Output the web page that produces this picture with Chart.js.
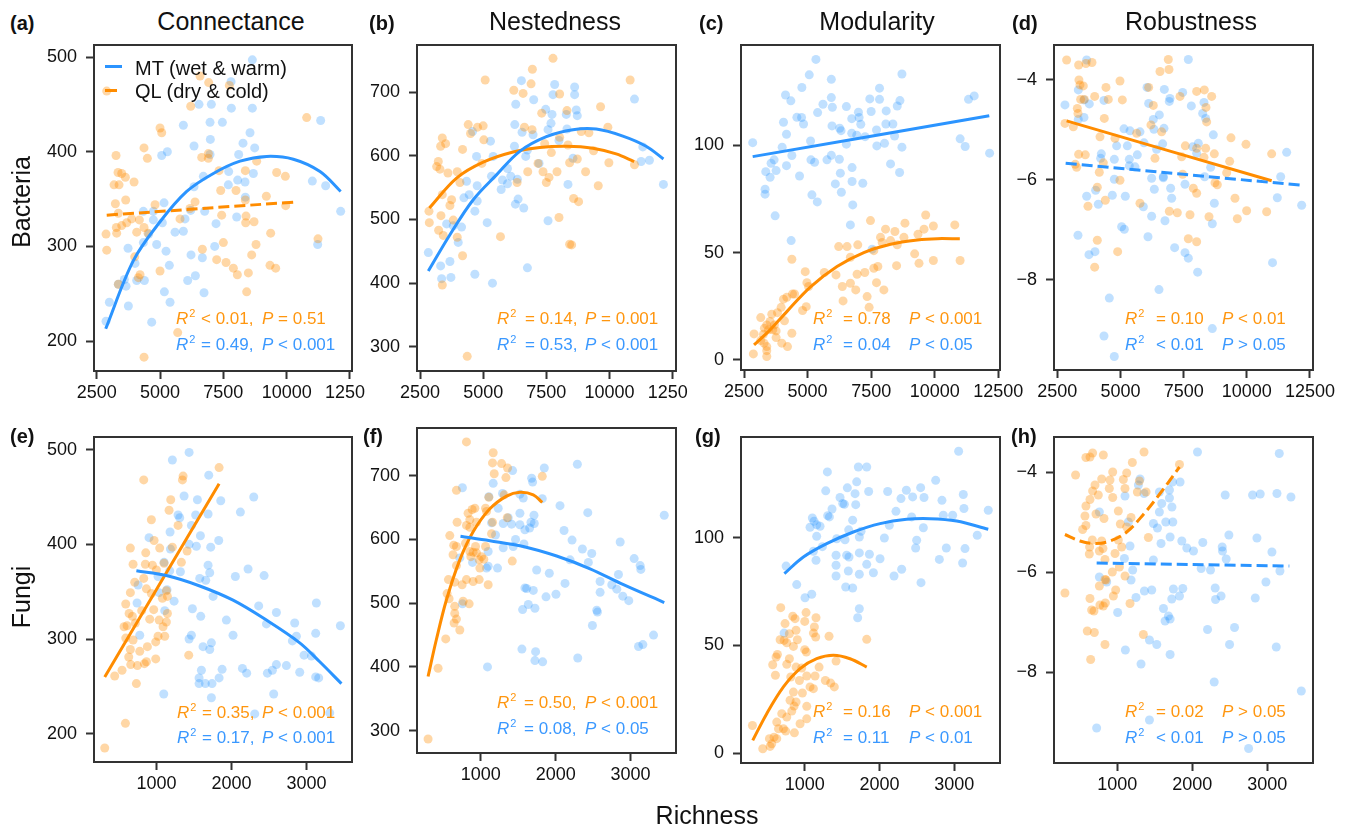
<!DOCTYPE html>
<html>
<head>
<meta charset="utf-8">
<script src="https://cdn.jsdelivr.net/npm/chart.js@4.4.0/dist/chart.umd.min.js"></script>
<style>
  body { margin: 0; background: #fff; }
  #fig { position: relative; width: 1351px; height: 828px; overflow: hidden; font-family: "Liberation Sans", Arial, sans-serif; color: #111; }
  #fig canvas { position: absolute; }
  .t { position: absolute; white-space: nowrap; line-height: 1; transform: translateY(-50%); z-index: 5; }
  .c { transform: translate(-50%, -50%); }
  .title { font-size: 25px; }
  .lab { font-size: 20px; font-weight: bold; }
  .axl { font-size: 25px; }
  .rot { transform: translate(-50%, -50%) rotate(-90deg); }
  .ann { font-size: 17px; }
  .ann sup { font-size: 11px; position: relative; top: -7px; vertical-align: baseline; margin-left: 1px; }
  .or { color: #ff960f; }
  .bl { color: #3a98ff; }
  .leg { font-size: 20px; }
  .swatch { position: absolute; width: 17px; height: 0; border-top: 3px solid; z-index: 5; }
</style>
</head>
<body>
<div id="fig">
  <div class="t c title" style="left:231px;top:21px">Connectance</div>
  <div class="t c title" style="left:555px;top:21px">Nestedness</div>
  <div class="t c title" style="left:877px;top:21px">Modularity</div>
  <div class="t c title" style="left:1191px;top:21px">Robustness</div>

  <div class="t lab" style="left:10px;top:23px">(a)</div>
  <div class="t lab" style="left:369px;top:23px">(b)</div>
  <div class="t lab" style="left:699px;top:23px">(c)</div>
  <div class="t lab" style="left:1012px;top:23px">(d)</div>
  <div class="t lab" style="left:10px;top:436px">(e)</div>
  <div class="t lab" style="left:363px;top:436px">(f)</div>
  <div class="t lab" style="left:695px;top:436px">(g)</div>
  <div class="t lab" style="left:1011px;top:436px">(h)</div>

  <div class="t axl rot" style="left:21px;top:202px">Bacteria</div>
  <div class="t axl rot" style="left:21px;top:597px">Fungi</div>
  <div class="t axl c" style="left:707px;top:815px">Richness</div>

  <div class="swatch" style="left:105px;top:65px;border-color:#2b94ff"></div>
  <div class="t leg" style="left:135px;top:68px">MT (wet &amp; warm)</div>
  <div class="swatch" style="left:105px;top:89px;border-color:#ff8c00;width:12px"></div>
  <div class="t leg" style="left:135px;top:91px">QL (dry &amp; cold)</div>

  <!-- (a) -->
  <span class="t ann or" style="left:176px;top:318px"><i>R</i><sup>2</sup></span>
  <span class="t ann or" style="left:201px;top:318px">&lt; 0.01,</span>
  <span class="t ann or" style="left:262px;top:318px"><i>P</i> = 0.51</span>
  <span class="t ann bl" style="left:176px;top:344px"><i>R</i><sup>2</sup></span>
  <span class="t ann bl" style="left:201px;top:344px">= 0.49,</span>
  <span class="t ann bl" style="left:262px;top:344px"><i>P</i> &lt; 0.001</span>
  <!-- (b) -->
  <span class="t ann or" style="left:497px;top:318px"><i>R</i><sup>2</sup></span>
  <span class="t ann or" style="left:525px;top:318px">= 0.14,</span>
  <span class="t ann or" style="left:585px;top:318px"><i>P</i> = 0.001</span>
  <span class="t ann bl" style="left:497px;top:344px"><i>R</i><sup>2</sup></span>
  <span class="t ann bl" style="left:525px;top:344px">= 0.53,</span>
  <span class="t ann bl" style="left:585px;top:344px"><i>P</i> &lt; 0.001</span>
  <!-- (c) -->
  <span class="t ann or" style="left:813px;top:318px"><i>R</i><sup>2</sup></span>
  <span class="t ann or" style="left:843px;top:318px">= 0.78</span>
  <span class="t ann or" style="left:909px;top:318px"><i>P</i> &lt; 0.001</span>
  <span class="t ann bl" style="left:813px;top:344px"><i>R</i><sup>2</sup></span>
  <span class="t ann bl" style="left:843px;top:344px">= 0.04</span>
  <span class="t ann bl" style="left:909px;top:344px"><i>P</i> &lt; 0.05</span>
  <!-- (d) -->
  <span class="t ann or" style="left:1125px;top:318px"><i>R</i><sup>2</sup></span>
  <span class="t ann or" style="left:1156px;top:318px">= 0.10</span>
  <span class="t ann or" style="left:1222px;top:318px"><i>P</i> &lt; 0.01</span>
  <span class="t ann bl" style="left:1125px;top:344px"><i>R</i><sup>2</sup></span>
  <span class="t ann bl" style="left:1156px;top:344px">&lt; 0.01</span>
  <span class="t ann bl" style="left:1222px;top:344px"><i>P</i> &gt; 0.05</span>
  <!-- (e) -->
  <span class="t ann or" style="left:177px;top:712px"><i>R</i><sup>2</sup></span>
  <span class="t ann or" style="left:202px;top:712px">= 0.35,</span>
  <span class="t ann or" style="left:262px;top:712px"><i>P</i> &lt; 0.001</span>
  <span class="t ann bl" style="left:177px;top:737px"><i>R</i><sup>2</sup></span>
  <span class="t ann bl" style="left:202px;top:737px">= 0.17,</span>
  <span class="t ann bl" style="left:262px;top:737px"><i>P</i> &lt; 0.001</span>
  <!-- (f) -->
  <span class="t ann or" style="left:497px;top:702px"><i>R</i><sup>2</sup></span>
  <span class="t ann or" style="left:524px;top:702px">= 0.50,</span>
  <span class="t ann or" style="left:585px;top:702px"><i>P</i> &lt; 0.001</span>
  <span class="t ann bl" style="left:497px;top:728px"><i>R</i><sup>2</sup></span>
  <span class="t ann bl" style="left:524px;top:728px">= 0.08,</span>
  <span class="t ann bl" style="left:585px;top:728px"><i>P</i> &lt; 0.05</span>
  <!-- (g) -->
  <span class="t ann or" style="left:813px;top:711px"><i>R</i><sup>2</sup></span>
  <span class="t ann or" style="left:843px;top:711px">= 0.16</span>
  <span class="t ann or" style="left:909px;top:711px"><i>P</i> &lt; 0.001</span>
  <span class="t ann bl" style="left:813px;top:737px"><i>R</i><sup>2</sup></span>
  <span class="t ann bl" style="left:843px;top:737px">= 0.11</span>
  <span class="t ann bl" style="left:909px;top:737px"><i>P</i> &lt; 0.01</span>
  <!-- (h) -->
  <span class="t ann or" style="left:1125px;top:711px"><i>R</i><sup>2</sup></span>
  <span class="t ann or" style="left:1156px;top:711px">= 0.02</span>
  <span class="t ann or" style="left:1222px;top:711px"><i>P</i> &gt; 0.05</span>
  <span class="t ann bl" style="left:1125px;top:737px"><i>R</i><sup>2</sup></span>
  <span class="t ann bl" style="left:1156px;top:737px">&lt; 0.01</span>
  <span class="t ann bl" style="left:1222px;top:737px"><i>P</i> &gt; 0.05</span>
</div>

<script>
// tick labels
const richTicksBac = [2500, 5000, 7500, 10000, 12500];
const richTicksFun = [1000, 2000, 3000];
const connTicks = [200, 300, 400, 500];
const nestTicks = [300, 400, 500, 600, 700];
const modTicks = [0, 50, 100];
const robTicks = [-8, -6, -4];

// Bacteria: [richness, value]
const bacConnMT = [[2868,221],[7803,474],[8645,497],[8645,446],[6539,450],[7026,450],[7816,446],[6974,431],[7461,431],[5921,428],
  [8553,420],[11342,433],[6987,413],[8276,409],[8737,404],[6342,406],[5289,400],[5066,396],[8105,397],[6974,397],
  [6342,363],[6711,374],[7711,379],[7697,365],[8066,370],[8355,368],[8684,377],[11013,369],[11539,364],[12132,337],
  [11224,302],[8368,352],[8026,331],[7211,324],[6763,337],[6211,338],[5987,329],[5921,316],[5592,315],[5158,346],
  [4737,337],[4737,328],[5092,325],[4342,337],[4342,304],[4553,313],[5237,295],[4868,302],[3737,298],[7158,300],
  [6224,291],[6671,288],[6092,264],[6395,269],[6737,251],[5368,280],[5171,252],[5395,241],[4013,282],[4079,264],
  [4382,264],[3355,260],[3592,265],[3750,237],[3000,241],[4671,220],[3658,258]];
const bacConnQL = [[2895,464],[6579,480],[6921,473],[7737,470],[6211,448],[10789,436],[5000,425],[5066,420],[4368,404],[4500,393],
  [3263,396],[6908,398],[6908,393],[6645,394],[8816,390],[3342,378],[3487,377],[3632,373],[3974,368],[3184,365],
  [3382,365],[9605,378],[9947,374],[7329,380],[7395,359],[8000,359],[8368,380],[9197,353],[3645,349],[3237,345],
  [4803,344],[6382,347],[9961,343],[8368,349],[3355,335],[6184,340],[7434,333],[8395,332],[5789,329],[3882,329],
  [3684,325],[3487,322],[3276,320],[4184,328],[4368,320],[8382,325],[8711,326],[4079,315],[2868,313],[3289,314],
  [4526,314],[9368,314],[7500,304],[11237,308],[8790,302],[2895,296],[6671,297],[4000,289],[7237,286],[7605,283],
  [7895,277],[8053,270],[8618,291],[9342,280],[9566,277],[4211,270],[5000,274],[8487,272],[8421,252],[5697,209],
  [4368,183],[3355,260],[4145,267]];
const bacConnMTFit = [[2855,213],[3947,285],[5000,326],[6053,358],[7105,377],[8158,390],[9210,395],[10263,392],[11316,379],[12132,358]];
const bacConnQLFit = [[2895,333],[10395,347]];

const bacNestMT = [[2829,448],[3316,427],[3355,407],[3724,409],[3684,434],[4013,464],[4145,488],[4237,534],[4342,560],[4671,513],
  [4763,529],[4763,553],[4737,599],[5368,400],[4671,414],[5158,495],[5329,568],[5395,599],[5289,623],
  [4579,638],[5763,562],[5961,580],[5711,547],[5961,556],[6092,568],[6276,524],[6382,532],[6355,563],[6237,615],
  [6250,649],[6289,681],[6513,718],[6605,518],[6539,637],[6999,688],[6974,633],[6750,609],[6684,599],[6750,424],
  [7211,588],[7566,498],[7474,673],[7724,665],[7684,651],[7566,641],[7829,712],[7763,696],[8000,624],[8289,665],
  [8316,642],[8355,555],[8618,708],[8618,696],[8684,672],[8724,663],[8553,596],[10987,689],[11250,591],[11579,593],
  [11316,614],[12132,555],[3816,490],[3553,493],[4447,539]];
const bacNestQL = [[7763,753],[6947,736],[5079,719],[10816,719],[6895,713],[6211,703],[6579,698],[8026,697],[9645,677],[7316,667],
  [8316,671],[4408,649],[5000,647],[4776,645],[4500,635],[6632,645],[6934,641],[8882,638],[9184,636],[9934,645],
  [3382,628],[3513,619],[3316,615],[5026,625],[4184,610],[8026,629],[8355,617],[7697,605],[9368,608],[7434,619],
  [3224,591],[3158,583],[3289,579],[3605,573],[3974,575],[4947,588],[7171,588],[7368,575],[7921,575],[8421,589],
  [8724,595],[9053,575],[9974,589],[10987,586],[6342,558],[6763,575],[7500,558],[7605,566],[9553,553],[4079,558],
  [3382,539],[3750,531],[3684,522],[2855,513],[2868,495],[3329,506],[3237,483],[3421,475],[3816,499],[3974,472],
  [4184,443],[5684,473],[8000,503],[8421,461],[8500,460],[8579,533],[8776,528],[3382,397],[4368,285]];
const bacNestMTFit = [[2829,419],[3684,476],[4605,531],[5526,570],[6447,607],[7500,630],[8553,641],[9474,642],[10526,631],[11447,615],[12132,595]];
const bacNestQLFit = [[2868,518],[3947,565],[5000,590],[6184,606],[7237,613],[8289,615],[9342,612],[10263,603],[10974,591]];

const bacModMT = [[2842,101.2],[5329,140],[5066,132.8],[5934,130.7],[4776,126.9],[8711,133.2],[4132,123.4],[4342,120.7],[5605,119.1],[5934,122.2],
  [5974,117.7],[6526,118],[7447,121.6],[7829,126.6],[7829,121.4],[8632,120.8],[8526,118.3],[8092,116],[7500,115.7],[11329,121.4],
  [11553,123],[5395,115.2],[4579,113],[4763,112.9],[4842,109.9],[4053,110.7],[5961,109],[6263,107.9],[6316,106.8],[6737,112.4],
  [7000,115.4],[7026,112.9],[7092,109.8],[6737,105.6],[6934,104.7],[7263,104],[7711,107.1],[8079,109.9],[8355,109.9],[8421,104.3],
  [4171,105.1],[5118,102],[6526,100.5],[7724,99.7],[8026,100.9],[8711,99.1],[11000,103],[11197,99.4],[12158,96.3],[4000,99.1],
  [4382,95.2],[5934,95.3],[5763,93.2],[6250,93.5],[5132,93.2],[5276,92.1],[3566,91.6],[3684,93.2],[3763,88.2],[4171,90.5],
  [3526,85.1],[3355,87.7],[4684,85.7],[6289,87],[6750,89.6],[8263,91.3],[8618,87.3],[6092,82],[6750,83.1],[7171,82.3],
  [6329,78.1],[3329,79.5],[3329,77.2],[5171,76.9],[5382,73.6],[6776,72.2],[3724,67.1],[6684,62.9],[4355,55.6],[7539,51.6]];
const bacModQL = [[9645,67.5],[7474,64.9],[8829,63.7],[10789,62.9],[9947,62.4],[9579,60.9],[8066,60.9],[9342,58.5],[8434,59.8],[7868,57.1],
  [8789,57.1],[8263,55.6],[7934,54.7],[8526,53.6],[6224,52.8],[6553,52.8],[6974,53.6],[7605,50.9],[9211,49.4],[6684,47.8],
  [4382,46.9],[9947,46.3],[10999,46.3],[9382,45],[8500,43.9],[7605,42.7],[7763,43.5],[4908,41.1],[5658,40.7],[6118,39.6],
  [6947,39.9],[7250,40.7],[4974,36],[5039,34.2],[6684,35.7],[6368,34.2],[7711,36],[6895,32.6],[8000,32.6],[7342,29.5],
  [4408,30.7],[4487,30.7],[4184,29.2],[4053,28.3],[6395,27.5],[7421,24.5],[4947,24.8],[4803,23],[3961,24.5],[3816,22],
  [3592,21.3],[3158,19.7],[3526,17.9],[3697,16.3],[4092,18.2],[3395,16.3],[3303,14.8],[3461,14],[3632,14],[3763,13.5],
  [4382,12.4],[2895,12.1],[3263,11.9],[3158,9],[3289,7.8],[3395,6.2],[3395,4.3],[2868,2.8],[3395,1.6],[3987,7.8],
  [4211,6.2],[3763,10.4]];
const bacModMTFit = [[2842,94.7],[12145,113.7]];
const bacModQLFit = [[2895,7],[3526,14],[4184,22.5],[5105,33.9],[6158,43.5],[7211,50],[8263,53.9],[9316,55.9],[10105,56.5],[10987,56.4]];

const bacRobMT = [[7685,-3.59],[3661,-3.6],[3331,-4.2],[6050,-4.15],[6735,-4.19],[7461,-4.25],[2803,-4.5],[3555,-4.4],[3766,-4.48],[4347,-4.41],
  [6115,-4.47],[6959,-4.37],[6932,-4.43],[7804,-4.52],[8305,-4.45],[8252,-4.67],[8371,-4.77],[3555,-4.75],[3331,-4.79],[6537,-4.7],
  [6299,-4.79],[6325,-4.99],[6721,-4.97],[5139,-4.98],[5377,-5.02],[5772,-5.04],[8674,-5.1],[5930,-5.26],[4848,-5.32],[5271,-5.32],
  [6669,-5.28],[8081,-5.27],[7857,-5.34],[6431,-5.39],[4241,-5.48],[4215,-5.57],[5666,-5.5],[5350,-5.59],[4756,-5.59],[8015,-5.47],
  [11577,-5.45],[5350,-5.72],[5574,-5.74],[8568,-5.75],[6233,-5.97],[6695,-5.94],[6695,-5.96],[8331,-5.94],[7553,-6.09],[4756,-5.99],
  [11340,-5.94],[6339,-6.19],[6985,-6.17],[4017,-6.21],[3661,-6.33],[5191,-6.33],[7025,-6.37],[4677,-6.31],[11207,-6.36],[4122,-6.49],
  [5904,-6.54],[8714,-6.47],[12171,-6.51],[6233,-6.73],[6761,-6.82],[8634,-6.88],[5046,-6.94],[5152,-6.99],[6088,-7.14],[3318,-7.11],
  [7143,-7.36],[7553,-7.46],[7685,-7.57],[3991,-7.44],[3753,-7.5],[8054,-7.85],[11018,-7.66],[6524,-8.2],[4558,-8.37],[4347,-9.13],
  [8634,-8.98],[4756,-9.54]];
const bacRobQL = [[2869,-3.6],[3344,-3.7],[3634,-3.67],[3872,-3.65],[6893,-3.59],[6563,-3.83],[6919,-3.79],[3357,-4.0],[3397,-4.1],[3529,-4.12],
  [4980,-4.02],[4426,-4.15],[6115,-4.15],[8015,-4.23],[8318,-4.2],[7355,-4.33],[8608,-4.33],[3978,-4.33],[3423,-4.39],[3568,-4.39],
  [4518,-4.39],[5073,-4.4],[6299,-4.51],[8384,-4.55],[3292,-4.57],[3318,-4.67],[4360,-4.77],[8411,-4.84],[2803,-4.87],[3133,-4.94],
  [6206,-4.9],[6629,-5.04],[5640,-5.07],[4189,-5.14],[4782,-5.17],[9373,-5.16],[9967,-5.29],[7566,-5.32],[8015,-5.37],[8371,-5.37],
  [8714,-5.48],[10983,-5.48],[3344,-5.49],[3608,-5.5],[6365,-5.57],[7421,-5.54],[8305,-5.55],[9321,-5.63],[4321,-5.66],[3265,-5.75],
  [3212,-5.69],[9202,-5.86],[4162,-5.85],[7461,-5.89],[4980,-6.01],[8740,-6.06],[8832,-6.1],[4083,-6.15],[7883,-6.17],[8015,-6.27],
  [4400,-6.41],[3714,-6.53],[5772,-6.47],[9532,-6.37],[6933,-6.63],[7249,-6.66],[7751,-6.7],[8503,-6.74],[9624,-6.78],[9993,-6.62],
  [10785,-6.64],[4083,-7.21],[7685,-7.18],[8015,-7.24],[4888,-7.44],[3978,-7.75]];
const bacRobMTFit = [[2830,-5.67],[12171,-6.11]];
const bacRobQLFit = [[2869,-4.82],[10983,-6.02]];

// Fungi: [richness, value]
const funConnMT = [[1436,497],[1213,489],[1369,451],[1547,447],[1698,473],[1858,446],[2298,450],[2120,434],[1289,431],[1311,428],
  [1689,432],[1524,431],[1182,413],[1467,420],[1587,409],[902,407],[1436,400],[1533,398],[1724,397],[1831,404],
  [1187,395],[1689,378],[1711,370],[1658,362],[1578,364],[1102,381],[1320,371],[1178,372],[1022,366],[756,357],
  [1036,349],[1142,352],[1756,345],[2053,366],[2222,374],[2436,367],[2364,335],[1236,340],[742,338],[1111,330],
  [1480,332],[1591,324],[2600,328],[3133,338],[2467,316],[2844,317],[1933,320],[3453,314],[3124,306],[2867,303],
  [778,304],[2022,304],[1467,304],[1436,300],[1622,292],[1733,296],[1711,289],[2813,298],[2969,283],[3067,282],
  [2733,272],[2600,273],[2547,267],[2480,264],[2911,265],[2147,269],[2204,264],[1876,268],[1600,267],[1569,259],
  [1569,253],[1653,253],[1742,253],[1836,259],[3124,260],[3164,259],[1733,238],[2564,242],[1098,242],[2311,221],[3311,222]];
const funConnQL = [[1836,481],[1356,472],[1347,468],[831,468],[1191,447],[1169,436],[1289,420],[933,426],[969,404],[1044,396],
  [653,396],[858,391],[1213,397],[1409,393],[1333,381],[689,379],[853,379],[947,378],[1102,380],[1000,373],
  [831,364],[711,360],[867,353],[653,349],[933,348],[1133,351],[1147,345],[1080,343],[591,337],[804,330],
  [964,331],[636,327],[680,324],[1147,327],[911,321],[1036,320],[569,313],[609,314],[720,317],[1133,318],
  [1089,313],[689,299],[591,301],[1022,303],[1111,303],[991,297],[653,289],[778,287],[880,292],[631,281],
  [747,272],[867,276],[840,274],[991,279],[658,273],[1431,283],[542,267],[444,261],[733,253],[587,211],[311,185]];
const funConnMTFit = [[733,372],[1133,367],[1578,356],[2022,341],[2467,320],[2911,296],[3178,276],[3467,253]];
const funConnQLFit = [[311,260],[1836,464]];

const funNestMT = [[2290,718],[1424,708],[1848,712],[1679,696],[1692,690],[754,681],[1165,688],[1290,672],[1821,664],[1567,665],
  [1522,671],[1107,667],[1232,649],[2058,653],[2429,642],[1522,641],[1710,638],[1366,634],[1299,625],[1411,624],
  [1522,623],[1670,627],[1714,625],[1589,615],[1652,618],[1196,607],[1143,626],[2112,614],[1464,600],[1576,593],
  [1433,589],[1299,587],[2219,599],[2357,585],[2482,578],[2862,596],[2437,564],[2192,568],[1098,581],[719,571],
  [889,564],[1098,558],[1223,555],[1076,555],[1746,552],[1915,547],[2594,534],[2839,545],[2125,531],[3049,570],
  [3129,559],[3138,553],[2750,529],[2817,522],[1589,524],[1612,523],[1701,520],[2594,517],[2004,514],[1871,510],
  [2897,511],[2977,504],[754,499],[1634,498],[1558,490],[1723,492],[2549,489],[2558,486],[2491,465],[3451,638],
  [3308,450],[3165,435],[3107,432],[1549,428],[1732,424],[1723,410],[1826,408],[2295,414],[1089,400]];
const funNestQL = [[808,753],[1165,736],[1156,720],[1277,719],[1357,712],[1179,703],[1335,697],[1821,699],[674,677],[1107,666],
  [1312,670],[1353,634],[830,641],[884,647],[920,649],[1063,649],[1076,644],[853,631],[683,627],[808,622],
  [853,619],[942,627],[1156,627],[1143,609],[585,606],[638,591],[674,589],[795,594],[929,589],[1063,589],
  [853,581],[897,580],[942,579],[629,576],[1009,573],[978,568],[866,573],[1040,569],[987,555],[674,559],
  [1420,566],[567,537],[651,533],[750,529],[808,537],[897,534],[978,537],[1098,529],[549,515],[576,507],
  [763,503],[844,499],[651,495],[651,484],[674,475],[643,469],[719,458],[531,444],[429,398],[295,287]];
const funNestMTFit = [[728,605],[1121,598],[1567,589],[2013,574],[2460,554],[2906,529],[3451,501]];
const funNestQLFit = [[295,385],[406,443],[540,505],[719,568],[897,612],[1121,648],[1344,668],[1522,674],[1701,670],[1821,658]];

const funModMT = [[3058,140.1],[1303,130.5],[1717,132.8],[1829,132.8],[2751,126.6],[1695,125.9],[1281,121.7],[1570,123.1],[1855,121.4],[2109,121.4],
  [2359,122],[2550,123.2],[1472,118.6],[1673,120.4],[1682,115.3],[1508,115.8],[1530,115.5],[2287,118.1],[2443,118.9],[2595,118.6],
  [2835,117.3],[3120,120],[3129,113.5],[1365,113.3],[1307,110.2],[1330,109.6],[1102,109.1],[1125,107.6],[1071,104.8],[1160,106],
  [1205,105.3],[1641,108.1],[2220,112.2],[2430,109.6],[2131,105.7],[2586,104.6],[2853,110.4],[2978,110.4],[3454,112.7],[1588,103.6],
  [1753,102.9],[1730,100.3],[1428,99.5],[1539,99],[1160,100.6],[2065,99.8],[2497,98.8],[3307,101.1],[1236,95.8],[1116,93.7],
  [2483,95.2],[2893,95.2],[3143,94.9],[1419,91.8],[1561,91.8],[1592,91],[1730,92.9],[1865,92.3],[2007,90.2],[1151,89.5],
  [2800,89.9],[3111,88.2],[1419,87.2],[1829,87.6],[1583,84.5],[1918,83.7],[2296,85.3],[2194,82.2],[751,86.8],[1419,82.2],
  [1730,83],[2555,79.1],[893,78.2],[1548,77.1],[1641,76.6],[1004,72.1],[1094,73.7],[1730,67],[1708,62.8],[724,55.7]];
const funModQL = [[679,67.5],[1018,65.2],[840,63.5],[871,62.4],[1151,62.8],[737,60.1],[1000,61.1],[884,57],[1129,58.5],[1116,55.7],
  [1147,53.9],[1325,54.2],[1829,52.8],[671,52.6],[724,52.3],[760,51.2],[902,52.6],[795,55.4],[849,49.5],[1000,48],
  [1022,46.9],[635,45.8],[617,44.6],[795,43.8],[760,41.2],[572,41],[884,39.9],[960,39.5],[1192,39.9],[1419,42.7],
  [608,36.1],[813,35.3],[1027,35.8],[1138,35.8],[929,33.7],[1276,33.7],[1347,32.5],[1396,30.7],[1071,30.7],[1116,29.9],
  [849,28.3],[969,27.9],[804,24.5],[884,23.7],[858,21.8],[1027,21.7],[827,19.5],[693,18.3],[760,16.7],[1027,15.9],
  [938,13.6],[626,14.4],[301,12.8],[649,11.3],[715,11.3],[746,10.2],[862,9.4],[528,6.7],[590,7.4],[626,6.7],
  [559,4.3],[439,2],[537,3.1]];
const funModMTFit = [[728,83.3],[982,91],[1294,97.2],[1650,102.6],[2007,106.5],[2363,108.5],[2675,108.8],[3031,107.7],[3454,103.9]];
const funModQLFit = [[305,5.9],[492,18.3],[715,30.7],[938,39.2],[1160,43.8],[1383,45.4],[1606,43.8],[1829,39.9]];

const funRobMT = [[2069,-3.59],[3160,-3.62],[1303,-4.13],[1837,-4.19],[1735,-4.19],[1281,-4.25],[1356,-4.42],[1561,-4.39],[1695,-4.35],[2439,-4.45],
  [2804,-4.45],[2906,-4.43],[3129,-4.42],[3316,-4.49],[1102,-4.47],[1695,-4.51],[1592,-4.62],[1728,-4.69],[760,-4.79],[1561,-4.79],
  [1147,-4.99],[1646,-4.99],[1740,-4.99],[1481,-5.02],[1535,-5.11],[2488,-5.25],[2862,-5.31],[1704,-5.29],[1860,-5.37],[2140,-5.4],
  [1583,-5.42],[1927,-5.51],[2016,-5.57],[2399,-5.49],[2403,-5.57],[1169,-5.47],[1094,-5.72],[1481,-5.75],[2452,-5.73],[3062,-5.59],
  [2118,-5.92],[2243,-5.95],[3169,-5.97],[1205,-5.95],[1183,-6.15],[760,-6.09],[858,-6.19],[2982,-6.19],[2305,-6.31],[1873,-6.32],
  [1748,-6.33],[1361,-6.37],[1459,-6.35],[2384,-6.47],[2310,-6.54],[2840,-6.51],[1249,-6.5],[1829,-6.47],[1726,-6.53],[1615,-6.72],
  [1004,-6.8],[1682,-6.87],[1637,-6.97],[1704,-6.93],[2203,-7.14],[2563,-7.1],[1428,-7.35],[1526,-7.44],[2497,-7.44],[3120,-7.49],
  [1107,-7.55],[1704,-7.64],[1316,-7.83],[2292,-8.19],[3454,-8.37],[1428,-8.95],[724,-9.11],[2751,-9.52]];
const funRobQL = [[1356,-3.59],[670,-3.61],[813,-3.65],[581,-3.7],[635,-3.69],[1829,-3.84],[1200,-3.8],[443,-4.05],[938,-3.99],[1125,-4.01],
  [791,-4.13],[902,-4.15],[1080,-4.14],[702,-4.25],[893,-4.32],[670,-4.37],[1294,-4.17],[1102,-4.32],[746,-4.45],[938,-4.5],
  [1267,-4.39],[1383,-4.39],[635,-4.54],[581,-4.67],[715,-4.83],[1013,-4.77],[568,-4.87],[822,-4.92],[1183,-4.9],[581,-5.06],
  [537,-5.14],[1040,-5.03],[1125,-5.09],[1414,-5.3],[666,-5.35],[791,-5.37],[630,-5.49],[808,-5.52],[1013,-5.35],[1058,-5.49],
  [969,-5.62],[626,-5.63],[835,-5.74],[1027,-5.89],[933,-5.99],[1102,-6.07],[835,-6.14],[760,-6.27],[978,-6.35],[301,-6.41],
  [635,-6.52],[947,-6.47],[768,-6.65],[840,-6.61],[1169,-6.62],[657,-6.75],[688,-6.77],[813,-6.67],[599,-7.17],[693,-7.2],
  [1347,-7.24],[835,-7.44],[644,-7.74],[849,-6.15],[760,-5.57]];
const funRobMTFit = [[724,-5.81],[3294,-5.87]];
const funRobQLFit = [[301,-5.24],[501,-5.37],[702,-5.42],[902,-5.37],[1125,-5.19],[1347,-4.84],[1570,-4.42],[1829,-3.89]];

const BLUE = '#2b94ff';
const ORANGE = '#ff8c00';
const BLUE_DOT = 'rgba(30,144,255,0.28)';
const ORANGE_DOT = 'rgba(255,140,0,0.35)';
const FONT = '"Liberation Sans", Arial, sans-serif';
const ML = 62, MT = 10, MB = 40;

const panels = [
  { rect: [94, 45, 352, 371], mr: 13, x: [2393, 12579], y: [168.4, 512.7], xt: richTicksBac, yt: connTicks,
    mt: bacConnMT, ql: bacConnQL, mtFit: bacConnMTFit, qlFit: bacConnQLFit, mtDash: false, qlDash: true },
  { rect: [417, 45, 676, 371], mr: 12, x: [2381, 12630], y: [262, 774], xt: richTicksBac, yt: nestTicks,
    mt: bacNestMT, ql: bacNestQL, mtFit: bacNestMTFit, qlFit: bacNestQLFit, mtDash: false, qlDash: false },
  { rect: [741, 45, 1000, 370], mr: 25, x: [2382, 12567], y: [-4.7, 146.7], xt: richTicksBac, yt: modTicks,
    mt: bacModMT, ql: bacModQL, mtFit: bacModMTFit, qlFit: bacModQLFit, mtDash: false, qlDash: false },
  { rect: [1054, 45, 1313, 370], mr: 36, x: [2369, 12619], y: [-9.81, -3.3], xt: richTicksBac, yt: robTicks,
    mt: bacRobMT, ql: bacRobQL, mtFit: bacRobMTFit, qlFit: bacRobQLFit, mtDash: true, qlDash: false },
  { rect: [94, 437, 352, 762], mr: 13, x: [168, 3608], y: [170.2, 513.3], xt: richTicksFun, yt: connTicks,
    mt: funConnMT, ql: funConnQL, mtFit: funConnMTFit, qlFit: funConnQLFit, mtDash: false, qlDash: false },
  { rect: [417, 428, 676, 753], mr: 13, x: [147, 3608], y: [265, 774.8], xt: richTicksFun, yt: nestTicks,
    mt: funNestMT, ql: funNestQL, mtFit: funNestMTFit, qlFit: funNestQLFit, mtDash: false, qlDash: false },
  { rect: [741, 437, 1000, 763], mr: 13, x: [148, 3611], y: [-4.6, 146.7], xt: richTicksFun, yt: modTicks,
    mt: funModMT, ql: funModQL, mtFit: funModMTFit, qlFit: funModQLFit, mtDash: false, qlDash: false },
  { rect: [1054, 437, 1313, 763], mr: 13, x: [155, 3610], y: [-9.81, -3.29], xt: richTicksFun, yt: robTicks,
    mt: funRobMT, ql: funRobQL, mtFit: funRobMTFit, qlFit: funRobQLFit, mtDash: true, qlDash: true }
];

const toXY = pts => pts.map(([x, y]) => ({ x, y }));
const fmt = v => (v < 0 ? '\u2212' + Math.abs(v) : String(v));

function fitSet(pts, color, dashed) {
  return {
    data: toXY(pts),
    showLine: true,
    borderColor: color,
    borderWidth: 3,
    borderDash: dashed ? [11, 5] : [],
    pointRadius: 0,
    tension: 0.35,
    fill: false
  };
}

function dotSet(pts, color) {
  return {
    data: toXY(pts),
    showLine: false,
    pointRadius: 4.5,
    pointBackgroundColor: color,
    pointBorderWidth: 0,
    pointBorderColor: 'rgba(0,0,0,0)'
  };
}

// box around the plot area
const frame = {
  id: 'frame',
  afterDraw(chart) {
    const { ctx, chartArea: a } = chart;
    ctx.save();
    ctx.strokeStyle = '#333';
    ctx.lineWidth = 2;
    ctx.strokeRect(a.left, a.top, a.right - a.left, a.bottom - a.top);
    ctx.restore();
  }
};

function axis(range, ticks, isX) {
  return {
    type: 'linear',
    min: range[0],
    max: range[1],
    afterBuildTicks(s) { s.ticks = ticks.map(v => ({ value: v })); },
    afterFit(s) {
      if (isX) s.height = MB; else s.width = ML;
      s.paddingLeft = 0; s.paddingRight = 0; s.paddingTop = 0; s.paddingBottom = 0;
    },
    border: { display: false },
    grid: { drawOnChartArea: false, drawTicks: true, tickLength: 8, tickWidth: 2, tickColor: '#333' },
    ticks: {
      autoSkip: false,
      maxRotation: 0,
      padding: isX ? 3 : 9,
      color: '#111',
      font: { family: FONT, size: 18 },
      callback: v => fmt(v)
    }
  };
}

function buildPanel(p) {
  const [L, T, R, B] = p.rect;
  const c = document.createElement('canvas');
  c.width = (R - L) + ML + p.mr;
  c.height = (B - T) + MT + MB;
  c.style.left = (L - ML) + 'px';
  c.style.top = (T - MT) + 'px';
  document.getElementById('fig').appendChild(c);

  return new Chart(c, {
    type: 'scatter',
    data: {
      datasets: [
        fitSet(p.mtFit, BLUE, p.mtDash),
        fitSet(p.qlFit, ORANGE, p.qlDash),
        dotSet(p.ql, ORANGE_DOT),
        dotSet(p.mt, BLUE_DOT)
      ]
    },
    options: {
      responsive: false,
      animation: false,
      layout: { padding: { left: 0, top: MT, right: p.mr, bottom: 0 } },
      plugins: { legend: { display: false }, tooltip: { enabled: false } },
      scales: { x: axis(p.x, p.xt, true), y: axis(p.y, p.yt, false) }
    },
    plugins: [frame]
  });
}

panels.forEach(buildPanel);
</script>
</body>
</html>
